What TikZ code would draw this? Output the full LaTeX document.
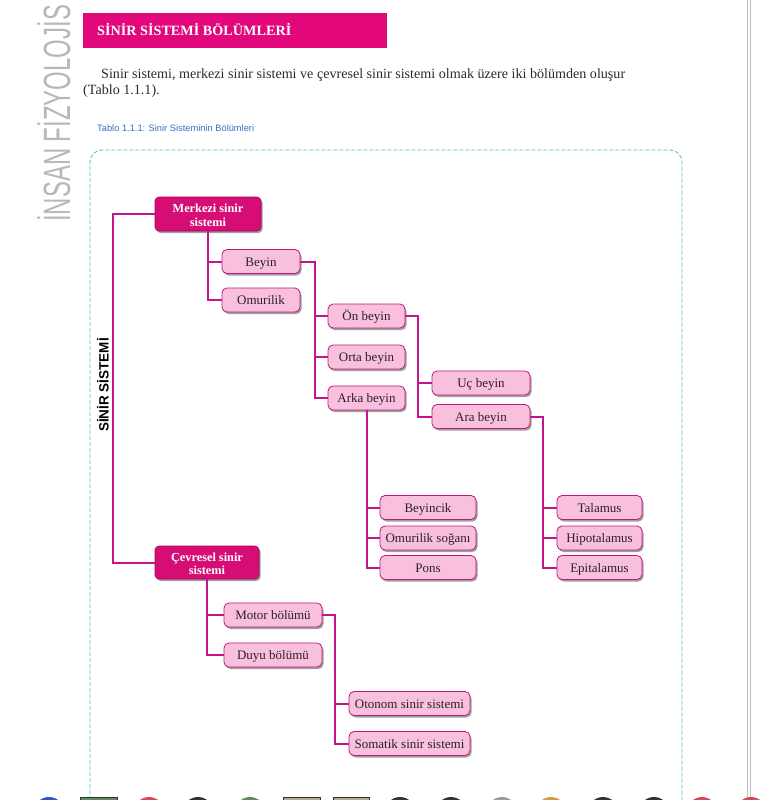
\documentclass[tikz,border=0pt]{standalone}
\usepackage{fontspec}
\setmainfont{Liberation Serif}
\newfontfamily\sansf{Liberation Sans}
\usetikzlibrary{shadows}
\definecolor{banner}{HTML}{E2087C}
\definecolor{darkfill}{HTML}{D70D76}
\definecolor{darkedge}{HTML}{A8005C}
\definecolor{lightfill}{HTML}{F8C0DC}
\definecolor{lightedge}{HTML}{C0177E}
\definecolor{connc}{HTML}{C4168A}
\definecolor{boxtext}{HTML}{2E1F2A}
\definecolor{captionblue}{HTML}{3B6EC6}
\definecolor{framecyan}{HTML}{4BBFD0}
\definecolor{bodytext}{HTML}{2B2B2B}
\definecolor{mblue}{HTML}{3A4FC0}
\definecolor{mgreen}{HTML}{5E8A66}
\definecolor{mred}{HTML}{D04A5A}
\definecolor{mdark}{HTML}{333333}
\definecolor{mbeige}{HTML}{B3AA8E}
\definecolor{mgray}{HTML}{9A9A9A}
\definecolor{morange}{HTML}{D0A040}
\tikzset{
  dbox/.style={rounded corners=4pt, draw=darkedge, line width=0.6pt, fill=darkfill, text=white,
    font=\bfseries\fontsize{12.3}{13.5}\selectfont, align=center, inner sep=0pt,
    text height=24pt, text depth=0pt,
    minimum height=34pt, drop shadow={shadow xshift=1.5pt, shadow yshift=-2pt, opacity=0.5, fill=black!75}},
  lbox/.style={rounded corners=5pt, draw=lightedge, line width=0.8pt, fill=lightfill, text=boxtext,
    font=\fontsize{13}{14}\selectfont, inner sep=0pt, minimum height=24pt,
    text height=10.5pt, text depth=1.5pt,
    drop shadow={shadow xshift=1.5pt, shadow yshift=-2pt, opacity=0.5, fill=black!75}},
  conn/.style={draw=connc, line width=2pt},
  markc/.style={fill=#1},
  markr/.style={fill=#1, draw=mdark, line width=0.5pt},
}
\begin{document}
\begin{tikzpicture}[x=1pt,y=-1pt]
\useasboundingbox (0,0) rectangle (764,800);
\fill[white] (0,0) rectangle (764,800);

% page side text
\begin{scope}
\clip (0,0) rectangle (764,800);
\node[rotate=90, anchor=base west, text=black!28, inner sep=0pt,
  font=\sansf\fontsize{38}{38}\selectfont] (side) at (70,222) {\scalebox{0.63}[1]{İNSAN FİZYOLOJİS}};
\end{scope}

% right gray lines
\draw[black!25, line width=0.8pt] (747,0) -- (747,800);
\draw[black!25, line width=0.8pt] (750,0) -- (750,800);

% banner
\fill[banner] (83,13) rectangle (387,48);
\node[anchor=base west, inner sep=0pt, text=white, font=\bfseries\fontsize{14.2}{14}\selectfont] (title) at (97,36) {SİNİR SİSTEMİ BÖLÜMLERİ};

% paragraph
\node[anchor=base west, inner sep=0pt, text=bodytext, font=\fontsize{14.1}{14}\selectfont] (para1) at (101,78)
  {Sinir sistemi, merkezi sinir sistemi ve çevresel sinir sistemi olmak üzere iki bölümden oluşur};
\node[anchor=base west, inner sep=0pt, text=bodytext, font=\fontsize{14.1}{14}\selectfont] (para2) at (83,94)
  {(Tablo 1.1.1).};

% caption
\node[anchor=base west, inner sep=0pt, text=captionblue, font=\sansf\fontsize{9.3}{10}\selectfont] (cap) at (97,131.5)
  {Tablo 1.1.1: Sinir Sisteminin Bölümleri};

% dashed frame
\draw[framecyan, line width=0.8pt, dash pattern=on 4pt off 2pt, rounded corners=12pt]
  (90,800) -- (90,150) -- (682,150) -- (682,800);

% vertical title
\node[rotate=90, inner sep=0pt, text=black, font=\sansf\bfseries\fontsize{13.5}{14}\selectfont] (sinir) at (103,385) {SİNİR SİSTEMİ};

% boxes
\node[dbox, minimum width=106pt] (merkezi) at (208,214) {Merkezi sinir\\sistemi};
\node[dbox, minimum width=104pt, minimum height=33pt] (cevresel) at (207,562.5) {Çevresel sinir\\sistemi};

\node[lbox, minimum width=78pt] (beyin) at (261,261.5) {Beyin};
\node[lbox, minimum width=78pt] (omurilik) at (261,300) {Omurilik};
\node[lbox, minimum width=77pt] (onbeyin) at (366.5,316) {Ön beyin};
\node[lbox, minimum width=77pt] (orta) at (366.5,357) {Orta beyin};
\node[lbox, minimum width=77pt] (arka) at (366.5,398) {Arka beyin};
\node[lbox, minimum width=98pt] (uc) at (481,383) {Uç beyin};
\node[lbox, minimum width=98pt] (ara) at (481,416.5) {Ara beyin};
\node[lbox, minimum width=96pt] (beyincik) at (428,507.5) {Beyincik};
\node[lbox, minimum width=96pt] (sogan) at (428,538) {Omurilik soğanı};
\node[lbox, minimum width=96pt] (pons) at (428,567.5) {Pons};
\node[lbox, minimum width=85pt] (talamus) at (599.5,507.5) {Talamus};
\node[lbox, minimum width=85pt] (hipo) at (599.5,538) {Hipotalamus};
\node[lbox, minimum width=85pt] (epi) at (599.5,567.5) {Epitalamus};
\node[lbox, minimum width=98pt] (motor) at (273,615) {Motor bölümü};
\node[lbox, minimum width=98pt] (duyu) at (273,655) {Duyu bölümü};
\node[lbox, minimum width=121pt] (otonom) at (409.5,703.5) {Otonom sinir sistemi};
\node[lbox, minimum width=121pt] (somatik) at (409.5,743.5) {Somatik sinir sistemi};

% junction columns
\coordinate (spine) at (113,0);
\coordinate (j1) at (315,0);
\coordinate (j2) at (418,0);
\coordinate (j3) at (543,0);
\coordinate (j4) at (335,0);

% connectors
\draw[conn] (merkezi.west) -- (merkezi.west -| spine) |- (cevresel.west);
\draw[conn] (merkezi.south) |- (omurilik.west);
\draw[conn] (merkezi.south |- beyin.west) -- (beyin.west);
\draw[conn] (beyin.east) -- (beyin.east -| j1) |- (arka.west);
\draw[conn] (j1 |- onbeyin.west) -- (onbeyin.west);
\draw[conn] (j1 |- orta.west) -- (orta.west);
\draw[conn] (onbeyin.east) -- (onbeyin.east -| j2) |- (ara.west);
\draw[conn] (j2 |- uc.west) -- (uc.west);
\draw[conn] (arka.south) |- (pons.west);
\draw[conn] (arka.south |- beyincik.west) -- (beyincik.west);
\draw[conn] (arka.south |- sogan.west) -- (sogan.west);
\draw[conn] (ara.east) -- (ara.east -| j3) |- (epi.west);
\draw[conn] (j3 |- talamus.west) -- (talamus.west);
\draw[conn] (j3 |- hipo.west) -- (hipo.west);
\draw[conn] (cevresel.south) |- (duyu.west);
\draw[conn] (cevresel.south |- motor.west) -- (motor.west);
\draw[conn] (motor.east) -- (motor.east -| j4) |- (somatik.west);
\draw[conn] (j4 |- otonom.west) -- (otonom.west);

% bottom page marks
\begin{scope}
\clip (0,0) rectangle (764,800);
\fill[markc=mblue] (49,812) circle (15pt);
\draw[markr=mgreen] (80,797) rectangle (117,815);
\fill[markc=mred] (149,812) circle (15pt);
\fill[markc=mdark] (198,812) circle (15pt);
\fill[markc=mgreen] (250,812) circle (15pt);
\draw[markr=mbeige] (283,797) rectangle (320,815);
\draw[markr=mbeige] (333,797) rectangle (369,815);
\fill[markc=mdark] (400,812) circle (15pt);
\fill[markc=mdark] (451,812) circle (15pt);
\fill[markc=mgray] (502,812) circle (15pt);
\fill[markc=morange] (551,812) circle (15pt);
\fill[markc=mdark] (603,812) circle (15pt);
\fill[markc=mdark] (654,812) circle (15pt);
\fill[markc=mred] (702,812) circle (15pt);
\fill[markc=mred] (751,812) circle (15pt);
\end{scope}
\end{tikzpicture}
\end{document}
